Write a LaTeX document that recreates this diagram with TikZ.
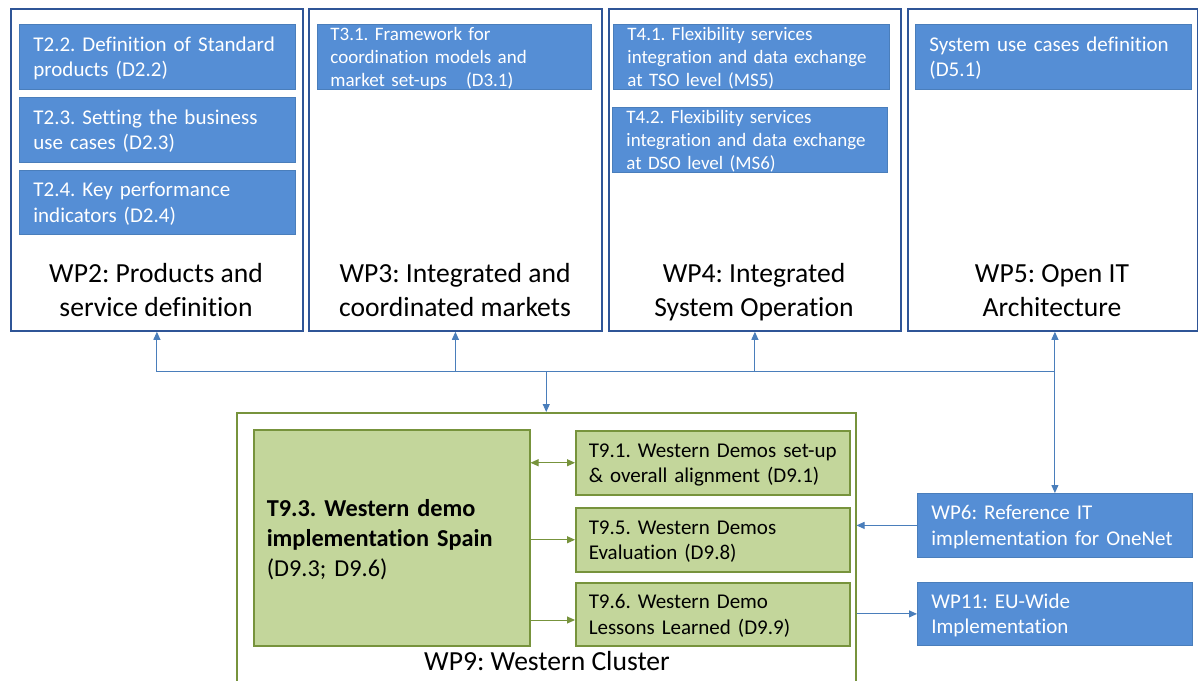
\documentclass[tikz,border=0pt]{standalone}
\usepackage{fontspec}
\setmainfont{Carlito}[Ligatures={NoCommon}]
\usetikzlibrary{arrows.meta,calc}
\definecolor{wpborder}{HTML}{2F5597}
\definecolor{bluefill}{HTML}{558ED5}
\definecolor{blueedge}{HTML}{4A7EBB}
\definecolor{connblue}{HTML}{4A7EBB}
\definecolor{greenfill}{HTML}{C3D69B}
\definecolor{greenedge}{HTML}{77933C}
\newcommand{\tstr}{\rule{0pt}{0.952em}}
\newcommand{\bstr}{\rule[-0.269em]{0pt}{0pt}}
\frenchspacing
\begin{document}
\begin{tikzpicture}[x=1pt,y=-1pt,
  wpbox/.style={draw=wpborder,line width=1.8pt,fill=white,inner sep=0pt,anchor=north west},
  bluebox/.style={draw=blueedge,line width=0.8pt,fill=bluefill,text=white,align=left,
    inner xsep=14pt,inner ysep=0pt,anchor=north west},
  greenbox/.style={draw=greenedge,line width=1.5pt,fill=greenfill,text=black,align=left,
    inner xsep=13pt,inner ysep=0pt,anchor=north west},
  clusterbox/.style={draw=greenedge,line width=1.5pt,fill=white,inner sep=0pt,anchor=north west},
  wptitle/.style={align=center,font=\fontsize{27.6pt}{33.7pt}\selectfont,inner sep=0pt},
  bigtxt/.style={font=\fontsize{21pt}{25.6pt}\selectfont},
  smalltxt/.style={font=\fontsize{19pt}{23pt}\selectfont,inner ysep=-3pt},
  conn/.style={draw=connblue,line width=1pt},
  carrow/.style={conn,-{Triangle[length=8pt,width=7pt]}},
  garrow/.style={draw=greenedge,line width=1pt,-{Triangle[length=8pt,width=7pt]}},
  gdouble/.style={draw=greenedge,line width=1pt,{Triangle[length=8pt,width=7pt]}-{Triangle[length=8pt,width=7pt]}}
]
\useasboundingbox (0,0) rectangle (1198,680);
\fill[white] (0,0) rectangle (1198,680);
\clip (0,0) rectangle (1198,680);

% ---- top work packages ----
\node[wpbox,minimum width=292pt,minimum height=322pt] (wp2) at (10,8) {};
\node[wpbox,minimum width=293pt,minimum height=322pt] (wp3) at (308,8) {};
\node[wpbox,minimum width=292pt,minimum height=322pt] (wp4) at (608,8) {};
\node[wpbox,minimum width=290pt,minimum height=322pt] (wp5) at (907,8) {};

\node[wptitle] (wp2t) at (156,290) {\tstr WP2: Products and\\service definition\bstr};
\node[wptitle] (wp3t) at (455,290) {\tstr WP3: Integrated and\\coordinated markets\bstr};
\node[wptitle] (wp4t) at (754,290) {\tstr WP4: Integrated\\System Operation\bstr};
\node[wptitle] (wp5t) at (1052,290) {\tstr WP5: Open IT\\Architecture\bstr};

% WP2 tasks
\node[bluebox,bigtxt,text width=248pt,minimum height=65pt] (t22) at (19,24)
  {\tstr T2.2. Definition of Standard\\products (D2.2)\bstr};
\node[bluebox,bigtxt,text width=248pt,minimum height=65pt] (t23) at (19,97)
  {\tstr T2.3. Setting the business\\use cases (D2.3)\bstr};
\node[bluebox,bigtxt,text width=248pt,minimum height=64pt] (t24) at (19,170)
  {\tstr T2.4. Key performance\\indicators (D2.4)\bstr};

% WP3 task
\node[bluebox,smalltxt,inner xsep=13pt,text width=248pt,minimum height=65pt] (t31) at (317,24)
  {\tstr T3.1. Framework for\\coordination models and\\market set-ups \ \ (D3.1)\bstr};

% WP4 tasks
\node[bluebox,smalltxt,text width=248pt,minimum height=65pt] (t41) at (613,24)
  {\tstr T4.1. Flexibility services\\integration and data exchange\\at TSO level (MS5)\bstr};
\node[bluebox,smalltxt,text width=247pt,minimum height=65pt] (t42) at (612,107)
  {\tstr T4.2. Flexibility services\\integration and data exchange\\at DSO level (MS6)\bstr};

% WP5 task
\node[bluebox,bigtxt,text width=248pt,minimum height=65pt] (t51) at (915,24)
  {\tstr System use cases definition\\(D5.1)\bstr};

% ---- WP9 cluster ----
\node[clusterbox,minimum width=619pt,minimum height=300pt] (wp9) at (236,412) {};
\node[wptitle] (wp9t) at (547,661) {\tstr WP9: Western Cluster\bstr};

\node[greenbox,text width=250pt,minimum height=216pt,
  font=\fontsize{24.3pt}{30pt}\selectfont] (t93) at (253,429)
  {\tstr\textbf{T9.3. Western demo}\\\textbf{implementation Spain}\\(D9.3; D9.6)\bstr};
\node[greenbox,bigtxt,text width=248pt,minimum height=64pt] (t91) at (575,430)
  {\tstr T9.1. Western Demos set-up\\\& overall alignment (D9.1)\bstr};
\node[greenbox,bigtxt,text width=248pt,minimum height=64pt] (t95) at (575,507)
  {\tstr T9.5. Western Demos\\Evaluation (D9.8)\bstr};
\node[greenbox,bigtxt,text width=248pt,minimum height=63pt] (t96) at (575,582)
  {\tstr T9.6. Western Demo\\Lessons Learned (D9.9)\bstr};

% ---- WP6 / WP11 ----
\node[bluebox,bigtxt,text width=247pt,minimum height=64pt] (wp6) at (917,493)
  {\tstr WP6: Reference IT\\implementation for OneNet\bstr};
\node[bluebox,bigtxt,text width=247pt,minimum height=63pt] (wp11) at (917,582)
  {\tstr WP11: EU-Wide\\Implementation\bstr};

% ---- connectors ----
\coordinate (hub) at (wp9.north |- 0,371);
\coordinate (right) at (wp6.north |- 0,371);
\draw[conn] (wp2.south |- hub) -- (right);
\draw[carrow] (hub) -| (wp2.south);
\draw[carrow] (hub) -| (wp3.south);
\draw[carrow] (hub) -| (wp4.south);
\draw[carrow] (right) -- (wp6.north |- wp5.south);
\draw[carrow] (right) -- (wp6.north);
\draw[carrow] (hub) -- (wp9.north);

\draw[gdouble] (t93.east |- t91.west) -- (t91.west);
\draw[garrow] (t93.east |- t95.west) -- (t95.west);
\draw[garrow] (t93.east |- 0,620) -- (t96.west |- 0,620);

\draw[carrow] (wp6.west) -- (wp9.east |- wp6.west);
\draw[carrow] (wp9.east |- wp11.west) -- (wp11.west);
\end{tikzpicture}
\end{document}
